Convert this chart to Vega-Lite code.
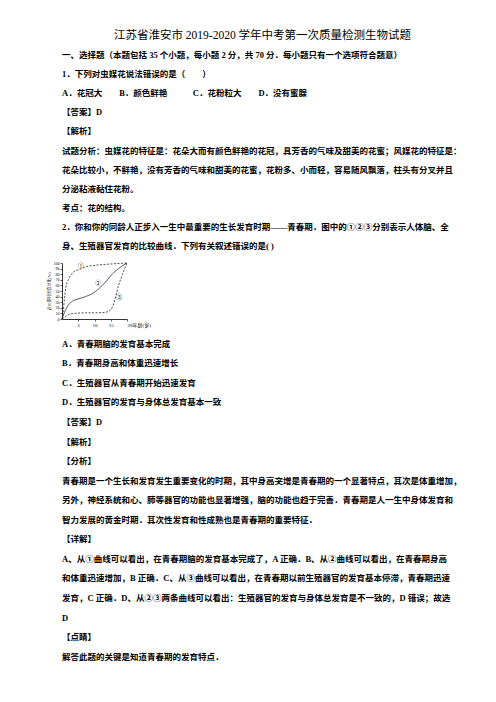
{
  "$schema": "https://vega.github.io/schema/vega-lite/v6.json",
  "background": "white",
  "padding": {"left": 47, "top": 26, "right": 0, "bottom": 0},
  "spacing": 5,
  "config": {
    "view": {"stroke": null},
    "font": "Liberation Serif, Noto Sans CJK SC",
    "axis": {"domainColor": "#000", "tickColor": "#000", "labelColor": "#000", "titleColor": "#000", "grid": false, "domainWidth": 0.8, "tickWidth": 0.6}
  },
  "vconcat": [
    {
      "width": 401,
      "height": 230,
      "data": {
        "values": [
          {"line": 0, "text": "江苏省淮安市 2019-2020 学年中考第一次质量检测生物试题"},
          {"line": 1, "text": "一、选择题（本题包括 35 个小题，每小题 2 分，共 70 分．每小题只有一个选项符合题意）"},
          {"line": 2, "text": "1．下列对虫媒花说法错误的是（　　）"},
          {"line": 3, "text": "A．花冠大　　B．颜色鲜艳　　　C．花粉粒大　　D．没有蜜腺"},
          {"line": 4, "text": "【答案】D"},
          {"line": 5, "text": "【解析】"},
          {"line": 6, "text": "试题分析：虫媒花的特征是：花朵大而有颜色鲜艳的花冠，具芳香的气味及甜美的花蜜；风媒花的特征是："},
          {"line": 7, "text": "花朵比较小，不鲜艳，没有芳香的气味和甜美的花蜜，花粉多、小而轻，容易随风飘落，柱头有分叉并且"},
          {"line": 8, "text": "分泌粘液黏住花粉。"},
          {"line": 9, "text": "考点：花的结构。"},
          {"line": 10, "text": "2．你和你的同龄人正步入一生中最重要的生长发育时期——青春期．图中的①②③分别表示人体脑、全"},
          {"line": 11, "text": "身、生殖器官发育的比较曲线．下列有关叙述错误的是( )"}
        ]
      },
      "encoding": {
        "y": {"field": "line", "type": "quantitative", "scale": {"domain": [-0.5, 11.5], "reverse": true}, "axis": null},
        "text": {"field": "text"}
      },
      "layer": [
        {
          "transform": [{"filter": "datum.line == 0"}],
          "mark": {"type": "text", "align": "center", "baseline": "middle", "fontSize": 11.5, "color": "#000"},
          "encoding": {"x": {"value": 200.5}}
        },
        {
          "transform": [{"filter": "datum.line > 0"}],
          "mark": {"type": "text", "align": "left", "baseline": "middle", "fontSize": 8.5, "fontWeight": "bold", "color": "#000"},
          "encoding": {"x": {"value": 0}}
        }
      ]
    },
    {
      "width": 65,
      "height": 56,
      "encoding": {
        "x": {
          "field": "age",
          "type": "quantitative",
          "scale": {"domain": [0, 20], "nice": false},
          "axis": {
            "values": [5, 10, 15, 20],
            "title": null,
            "tickSize": 2,
            "labelPadding": 1,
            "labelFontSize": 5,
            "labelExpr": "datum.value == 20 ? '20年龄(岁)' : datum.label",
            "labelAlign": {"condition": {"test": "datum.value == 20", "value": "left"}, "value": "center"}
          }
        },
        "y": {
          "field": "pct",
          "type": "quantitative",
          "scale": {"domain": [0, 100], "nice": false},
          "axis": {
            "values": [0, 10, 20, 30, 40, 50, 60, 70, 80, 90, 100],
            "title": "占20岁时的百分比(%)",
            "titleFontSize": 4,
            "titleFontWeight": "normal",
            "titlePadding": 2,
            "tickSize": 2,
            "labelPadding": 1,
            "labelFontSize": 4
          }
        }
      },
      "layer": [
        {
          "data": {
            "values": [
              {"series": "①", "age": 0, "pct": 0},
              {"series": "①", "age": 0.4, "pct": 15},
              {"series": "①", "age": 0.8, "pct": 39},
              {"series": "①", "age": 1.2, "pct": 57},
              {"series": "①", "age": 2.1, "pct": 72},
              {"series": "①", "age": 3.6, "pct": 84},
              {"series": "①", "age": 5.1, "pct": 88},
              {"series": "①", "age": 7.2, "pct": 93},
              {"series": "①", "age": 10.3, "pct": 96},
              {"series": "①", "age": 14.4, "pct": 98},
              {"series": "①", "age": 20, "pct": 100},
              {"series": "②", "age": 0, "pct": 0},
              {"series": "②", "age": 1, "pct": 15},
              {"series": "②", "age": 2.1, "pct": 26},
              {"series": "②", "age": 3.6, "pct": 33},
              {"series": "②", "age": 5.1, "pct": 36},
              {"series": "②", "age": 7.2, "pct": 40},
              {"series": "②", "age": 9.2, "pct": 45},
              {"series": "②", "age": 11.3, "pct": 54},
              {"series": "②", "age": 13.4, "pct": 66},
              {"series": "②", "age": 15.4, "pct": 80},
              {"series": "②", "age": 17.4, "pct": 90},
              {"series": "②", "age": 20, "pct": 100},
              {"series": "③", "age": 0, "pct": 0},
              {"series": "③", "age": 1, "pct": 4},
              {"series": "③", "age": 2.1, "pct": 8},
              {"series": "③", "age": 4.1, "pct": 10},
              {"series": "③", "age": 7.2, "pct": 11},
              {"series": "③", "age": 10.3, "pct": 11},
              {"series": "③", "age": 13.4, "pct": 12},
              {"series": "③", "age": 14.9, "pct": 16},
              {"series": "③", "age": 15.9, "pct": 27},
              {"series": "③", "age": 16.6, "pct": 42},
              {"series": "③", "age": 17.4, "pct": 60},
              {"series": "③", "age": 18.5, "pct": 78},
              {"series": "③", "age": 19.5, "pct": 93},
              {"series": "③", "age": 20, "pct": 100}
            ]
          },
          "mark": {"type": "line", "color": "#222", "strokeWidth": 0.8, "interpolate": "monotone"},
          "encoding": {
            "detail": {"field": "series"},
            "strokeDash": {"field": "series", "type": "nominal", "scale": {"domain": ["①", "②", "③"], "range": [[2, 1.5], [1, 0], [2, 1.5]]}, "legend": null}
          }
        },
        {
          "data": {
            "values": [
              {"series": "①", "age": 5.8, "pct": 95},
              {"series": "②", "age": 11.1, "pct": 64},
              {"series": "③", "age": 17.6, "pct": 40}
            ]
          },
          "mark": {"type": "text", "fontSize": 6, "color": "#222", "baseline": "middle"},
          "encoding": {"text": {"field": "series"}}
        }
      ]
    },
    {
      "width": 401,
      "height": 334.5,
      "data": {
        "values": [
          {"line": 0, "text": "A．青春期脑的发育基本完成"},
          {"line": 1, "text": "B．青春期身高和体重迅速增长"},
          {"line": 2, "text": "C．生殖器官从青春期开始迅速发育"},
          {"line": 3, "text": "D．生殖器官的发育与身体总发育基本一致"},
          {"line": 4, "text": "【答案】D"},
          {"line": 5, "text": "【解析】"},
          {"line": 6, "text": "【分析】"},
          {"line": 7, "text": "青春期是一个生长和发育发生重要变化的时期，其中身高突增是青春期的一个显著特点，其次是体重增加，"},
          {"line": 8, "text": "另外，神经系统和心、肺等器官的功能也显著增强，脑的功能也趋于完善．青春期是人一生中身体发育和"},
          {"line": 9, "text": "智力发展的黄金时期．其次性发育和性成熟也是青春期的重要特征．"},
          {"line": 10, "text": "【详解】"},
          {"line": 11, "text": "A、从①曲线可以看出，在青春期脑的发育基本完成了，A 正确．B、从②曲线可以看出，在青春期身高"},
          {"line": 12, "text": "和体重迅速增加，B 正确．C、从③曲线可以看出，在青春期以前生殖器官的发育基本停滞，青春期迅速"},
          {"line": 13, "text": "发育，C 正确．D、从②③两条曲线可以看出：生殖器官的发育与身体总发育是不一致的，D 错误；故选"},
          {"line": 14, "text": "D"},
          {"line": 15, "text": "【点睛】"},
          {"line": 16, "text": "解答此题的关键是知道青春期的发育特点．"}
        ]
      },
      "mark": {"type": "text", "align": "left", "baseline": "middle", "fontSize": 8.5, "fontWeight": "bold", "color": "#000"},
      "encoding": {
        "x": {"value": 0},
        "y": {"field": "line", "type": "quantitative", "scale": {"domain": [-0.6, 16.5], "reverse": true}, "axis": null},
        "text": {"field": "text"}
      }
    }
  ]
}
